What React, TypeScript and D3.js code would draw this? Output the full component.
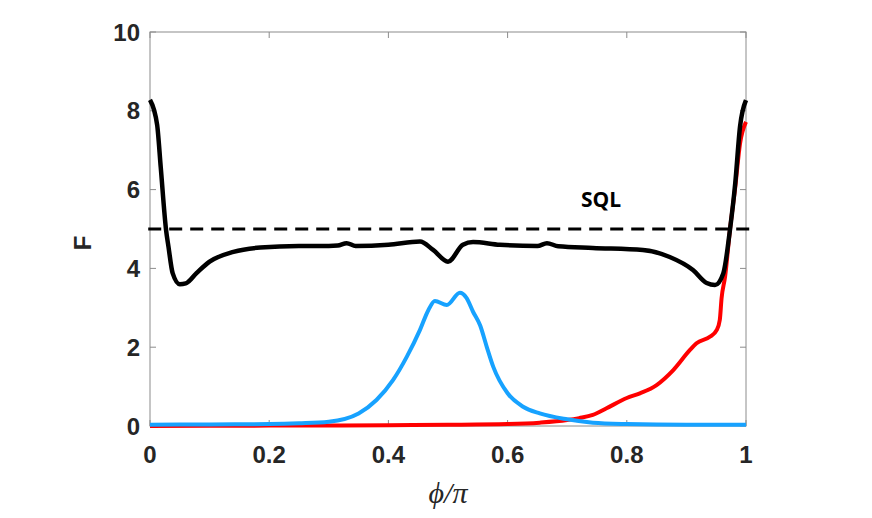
import * as d3 from 'd3';

// F vs phi/pi
const blackCurve: [number, number][] = [
  [0, 8.28], [0.012, 7.64], [0.018, 6.57], [0.027, 4.97], [0.031, 4.55], [0.038, 3.88],
  [0.05, 3.6], [0.06, 3.62], [0.078, 3.88], [0.1, 4.17], [0.14, 4.42], [0.185, 4.53],
  [0.25, 4.57], [0.3, 4.57], [0.315, 4.58], [0.33, 4.64], [0.345, 4.57], [0.4, 4.6],
  [0.453, 4.68], [0.475, 4.47], [0.5, 4.17], [0.525, 4.6], [0.542, 4.67], [0.587, 4.6],
  [0.65, 4.57], [0.666, 4.64], [0.685, 4.56], [0.743, 4.52], [0.827, 4.47], [0.872, 4.29],
  [0.911, 3.96], [0.934, 3.63], [0.948, 3.58], [0.962, 3.88], [0.973, 4.97], [0.982, 6.17],
  [0.99, 7.6], [1.0, 8.27],
];

const redCurve: [number, number][] = [
  [0, 0], [0.2, 0.01], [0.4, 0.02], [0.5, 0.03], [0.6, 0.05], [0.654, 0.085], [0.7, 0.15],
  [0.72, 0.2], [0.743, 0.28], [0.766, 0.45], [0.8, 0.71], [0.822, 0.83], [0.85, 1.04],
  [0.878, 1.42], [0.906, 1.93], [0.917, 2.1], [0.94, 2.27], [0.951, 2.44], [0.956, 2.69],
  [0.959, 3.24], [0.965, 3.8], [0.973, 4.97], [0.982, 6.07], [0.99, 7.17], [1.0, 7.72],
];

const blueCurve: [number, number][] = [
  [0, 0.03], [0.1, 0.04], [0.2, 0.05], [0.25, 0.07], [0.3, 0.11], [0.35, 0.32], [0.38, 0.66],
  [0.408, 1.17], [0.431, 1.76], [0.453, 2.44], [0.467, 2.94], [0.478, 3.17], [0.498, 3.07],
  [0.52, 3.38], [0.531, 3.25], [0.542, 2.9], [0.554, 2.55], [0.565, 2.01], [0.576, 1.5],
  [0.6, 0.83], [0.626, 0.49], [0.654, 0.32], [0.7, 0.17], [0.743, 0.085], [0.8, 0.05],
  [0.9, 0.03], [1.0, 0.03],
];

const sqlLevel = 5;
const sqlSpan = [-0.003, 1.01];
const sqlLabel = { x: 0.723, y: 5.55, text: 'SQL' };

const xTicks = [0, 0.2, 0.4, 0.6, 0.8, 1];
const yTicks = [0, 2, 4, 6, 8, 10];

const width = 872;
const height = 518;
const margin = { top: 32, right: 126, bottom: 92, left: 150 };

export default function App() {
  const innerWidth = width - margin.left - margin.right;
  const innerHeight = height - margin.top - margin.bottom;

  const x = d3.scaleLinear().domain([0, 1]).range([0, innerWidth]);
  const y = d3.scaleLinear().domain([0, 10]).range([innerHeight, 0]);

  const line = d3
    .line<[number, number]>()
    .x((d) => x(d[0]))
    .y((d) => y(d[1]))
    .curve(d3.curveMonotoneX);

  const axisColor = '#8c8c8c';
  const labelColor = '#262626';
  const tickFont = "'Liberation Sans', Arial, sans-serif";

  return (
    <svg
      width={width}
      height={height}
      style={{ position: 'absolute', left: 0, top: 0, background: '#fff' }}
    >
      <g transform={`translate(${margin.left},${margin.top})`}>
        {/* box */}
        <rect x={0} y={0} width={innerWidth} height={innerHeight} fill="none" stroke={axisColor} strokeWidth={1} />

        {/* ticks, inward on all four sides */}
        {xTicks.map((t) => (
          <g key={`xt${t}`}>
            <line x1={x(t)} x2={x(t)} y1={innerHeight} y2={innerHeight - 6} stroke={axisColor} />
            <line x1={x(t)} x2={x(t)} y1={0} y2={6} stroke={axisColor} />
            <text
              x={x(t)}
              y={innerHeight + 37}
              textAnchor="middle"
              fontFamily={tickFont}
              fontWeight="bold"
              fontSize={24}
              fill={labelColor}
            >
              {t}
            </text>
          </g>
        ))}
        {yTicks.map((t) => (
          <g key={`yt${t}`}>
            <line x1={0} x2={6} y1={y(t)} y2={y(t)} stroke={axisColor} />
            <line x1={innerWidth} x2={innerWidth - 6} y1={y(t)} y2={y(t)} stroke={axisColor} />
            <text
              x={-10}
              y={y(t)}
              dy="0.36em"
              textAnchor="end"
              fontFamily={tickFont}
              fontWeight="bold"
              fontSize={24}
              fill={labelColor}
            >
              {t}
            </text>
          </g>
        ))}

        {/* curves */}
        <path d={line(redCurve) ?? ''} fill="none" stroke="#ff0000" strokeWidth={4} strokeLinejoin="round" />
        <path d={line(blueCurve) ?? ''} fill="none" stroke="#17a2ff" strokeWidth={4} strokeLinejoin="round" />
        <path d={line(blackCurve) ?? ''} fill="none" stroke="#000" strokeWidth={4.5} strokeLinejoin="round" />

        {/* SQL reference */}
        <line
          x1={x(sqlSpan[0])}
          x2={x(sqlSpan[1])}
          y1={y(sqlLevel)}
          y2={y(sqlLevel)}
          stroke="#000"
          strokeWidth={3}
          strokeDasharray="13,8"
        />
        <text
          x={x(sqlLabel.x)}
          y={y(sqlLabel.y)}
          fontFamily="'Open Sans', 'Liberation Sans', sans-serif"
          fontWeight="bold"
          fontSize={21}
          fill="#000"
        >
          {sqlLabel.text}
        </text>

        {/* axis titles */}
        <text
          transform={`translate(${-59},${innerHeight / 2 + 14}) rotate(-90)`}
          textAnchor="middle"
          fontFamily={tickFont}
          fontWeight="bold"
          fontSize={24}
          fill={labelColor}
        >
          F
        </text>
        <text
          x={innerWidth / 2}
          y={innerHeight + 77}
          textAnchor="middle"
          fontFamily="'Liberation Serif', 'DejaVu Serif', serif"
          fontStyle="italic"
          fontSize={30}
          fill={labelColor}
        >
          ϕ/π
        </text>
      </g>
    </svg>
  );
}
